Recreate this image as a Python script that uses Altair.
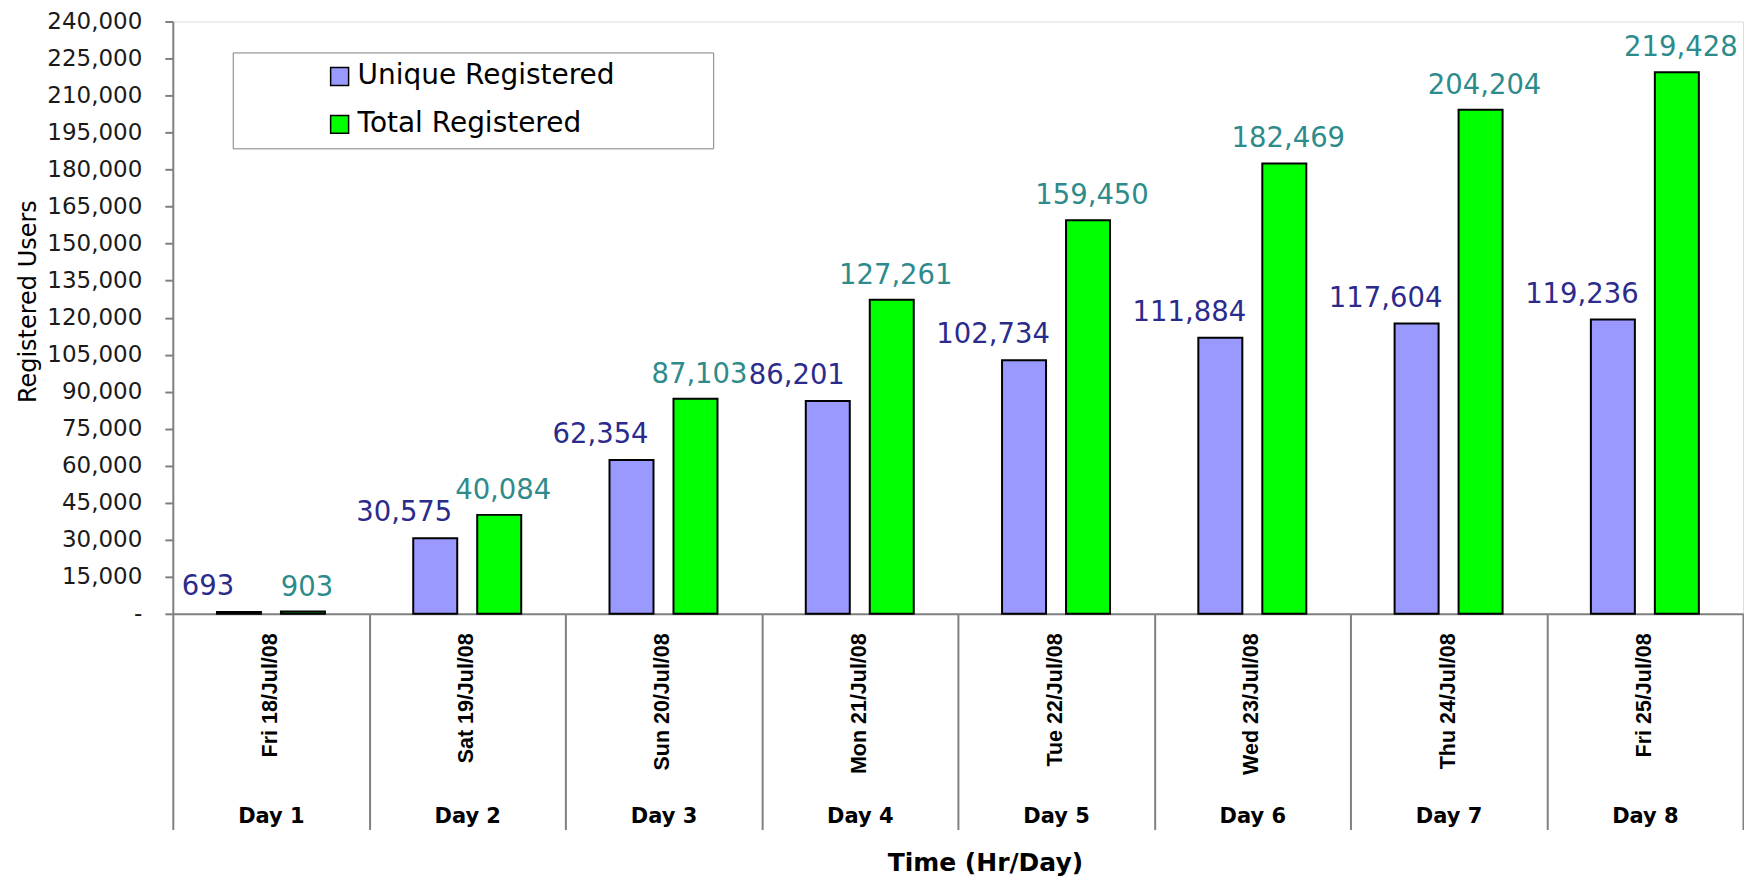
import altair as alt
import pandas as pd

# ---- data -------------------------------------------------------------
dates = ["Fri 18/Jul/08", "Sat 19/Jul/08", "Sun 20/Jul/08", "Mon 21/Jul/08",
         "Tue 22/Jul/08", "Wed 23/Jul/08", "Thu 24/Jul/08", "Fri 25/Jul/08"]
days = ["Day 1", "Day 2", "Day 3", "Day 4", "Day 5", "Day 6", "Day 7", "Day 8"]
unique_registered = [693, 30575, 62354, 86201, 102734, 111884, 117604, 119236]
total_registered = [903, 40084, 87103, 127261, 159450, 182469, 204204, 219428]
series = ["Unique Registered", "Total Registered"]
bar_colors = ["#9999FF", "#00FF00"]
label_colors = ["#2B2B8C", "#2E8B8B"]
y_ticks = list(range(0, 240001, 15000))

rows = []
for d, dy, u, t in zip(dates, days, unique_registered, total_registered):
    rows.append({"date": d, "day": dy, "series": series[0], "value": u})
    rows.append({"date": d, "day": dy, "series": series[1], "value": t})
df = pd.DataFrame(rows)
df_days = pd.DataFrame({"day": days})

GRAY = "#808080"
SANS = "Liberation Sans"
WIDE = "DejaVu Sans"

x_date = alt.X(
    "date:N", sort=dates,
    scale=alt.Scale(domain=dates, paddingInner=0, paddingOuter=0),
    axis=alt.Axis(orient="bottom", title=None, labelAngle=270, labelAlign="right",
                  labelBaseline="middle", labelPadding=19, labelFont=SANS,
                  labelFontSize=21.5, labelFontWeight="bold", labelColor="#000000",
                  labelLimit=400, ticks=False, domain=True, domainColor=GRAY,
                  domainWidth=2, grid=False),
)
x_off = alt.XOffset("series:N", sort=series,
                    scale=alt.Scale(domain=series, paddingInner=0.3125, paddingOuter=0.69))
y_val = alt.Y(
    "value:Q",
    scale=alt.Scale(domain=[0, 240000], nice=False, zero=True),
    axis=alt.Axis(values=y_ticks,
                  labelExpr="datum.value == 0 ? '-' : format(datum.value, ',')",
                  title="Registered Users", titleFont=WIDE, titleFontSize=24,
                  titleFontWeight="normal", titleColor="#000000", titlePadding=6,
                  titleY=280,
                  labelFont=WIDE, labelFontSize=23, labelColor="#1a1a1a",
                  labelPadding=23, tickSize=8, tickColor=GRAY, tickWidth=2,
                  domainColor=GRAY, domainWidth=2, grid=False),
)

bars = alt.Chart(df).mark_bar(stroke="black", strokeWidth=2).encode(
    x=x_date, xOffset=x_off, y=y_val,
    color=alt.Color(
        "series:N", sort=series,
        scale=alt.Scale(domain=series, range=bar_colors),
        legend=alt.Legend(title="\u00a0", titleOrient="right", titlePadding=89,
                          titleFontSize=10,
                          orient="none", legendX=60, legendY=31,
                          direction="vertical", symbolType="square", symbolSize=324,
                          symbolStrokeColor="black", symbolStrokeWidth=1.5,
                          labelFont=WIDE, labelFontSize=28, labelColor="#000000",
                          padding=10, rowPadding=20, strokeColor=GRAY,
                          fillColor="white", symbolOffset=83, labelOffset=4,
                          labelLimit=1000),
    ),
)

text_u = alt.Chart(df).transform_filter(alt.datum.series == series[0]).mark_text(
    font=WIDE, fontSize=27.5, color=label_colors[0], baseline="middle", dx=-31, dy=-25
).encode(x=x_date, xOffset=x_off, y=y_val, text=alt.Text("value:Q", format=","))

text_t = alt.Chart(df).transform_filter(alt.datum.series == series[1]).mark_text(
    font=WIDE, fontSize=27.5, color=label_colors[1], baseline="middle", dx=4, dy=-24
).encode(x=x_date, xOffset=x_off, y=y_val, text=alt.Text("value:Q", format=","))

main = alt.layer(bars, text_u, text_t)

day_axis = alt.Chart(df_days).mark_text(opacity=0).encode(
    x=alt.X("day:N", sort=days,
            scale=alt.Scale(domain=days, paddingInner=0, paddingOuter=0),
            axis=alt.Axis(orient="bottom", tickBand="extent", ticks=True, tickSize=216,
                          tickColor=GRAY, tickWidth=2, domain=False, labelAngle=0,
                          labelAlign="center", labelBaseline="top", labelPadding=-24,
                          labelFont=WIDE, labelFontSize=21, labelFontWeight="bold",
                          labelColor="#000000", grid=False,
                          title="Time (Hr/Day)", titleFont=WIDE, titleFontSize=25,
                          titleFontWeight="bold", titleColor="#000000",
                          titlePadding=37, titleX=813)),
    text=alt.value(" "),
)

chart = alt.layer(main, day_axis).resolve_scale(x="independent").properties(
    width=1572, height=593,
    padding={"left": 8, "top": 2, "right": 0, "bottom": 0},
).configure_view(stroke=None).configure(background="white")

chart.save("out.html", embed_options={"renderer": "svg", "actions": False})
